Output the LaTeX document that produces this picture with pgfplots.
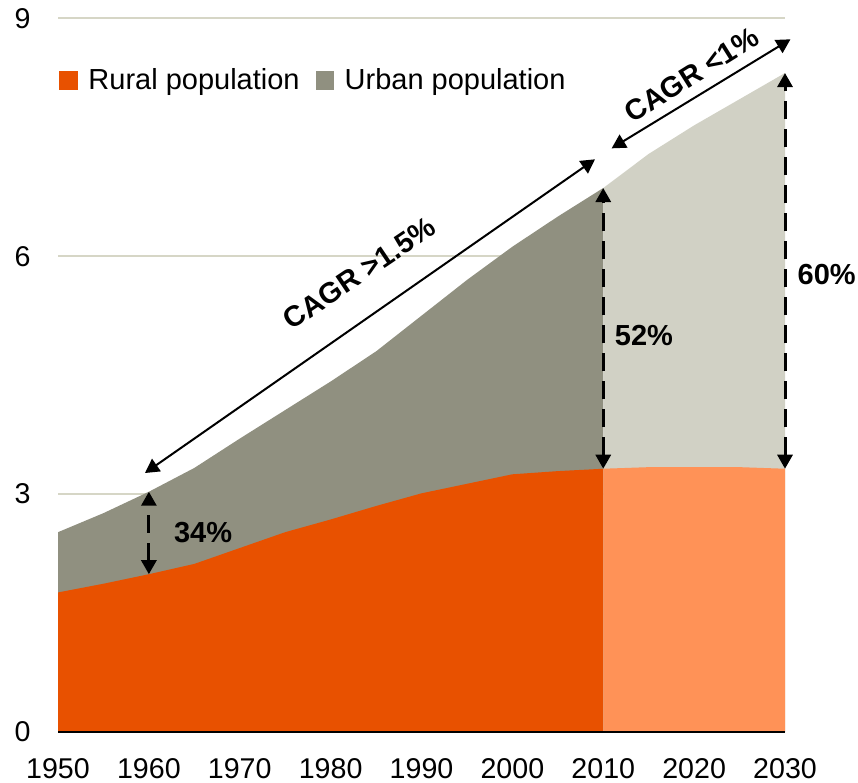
\documentclass[border=0pt]{standalone}
\usepackage{fontspec}
\setmainfont{Liberation Sans}
\usepackage{pgfplots}
\pgfplotsset{compat=1.18}
\usetikzlibrary{arrows.meta}
\definecolor{rural}{HTML}{E85100}
\definecolor{rurallight}{HTML}{FF9257}
\definecolor{urban}{HTML}{909080}
\definecolor{urbanlight}{HTML}{D1D1C5}
\definecolor{gridc}{HTML}{D6D6C6}
\newcommand{\lblfont}{\fontsize{14.3}{16}\selectfont}
\begin{document}
\begin{tikzpicture}[
  tip/.style={{Triangle[length=7pt,width=7.5pt]}-{Triangle[length=7pt,width=7.5pt]}}]
\begin{axis}[name=ax,
  scale only axis, width=363.5pt, height=356.85pt,
  xmin=1950, xmax=2030, ymin=0, ymax=9,
  xtick={1950,1960,...,2030}, ytick={0,3,6,9},
  major tick length=0pt,
  axis line style={draw=none},
  ymajorgrids, grid style={gridc, line width=0.8pt},
  /pgf/number format/assume math mode=true,
  /pgf/number format/1000 sep={},
  tick label style={font=\lblfont},
  xticklabel style={anchor=north, inner sep=0pt, yshift=-13pt},
  yticklabel style={anchor=east, inner sep=0pt, xshift=-13.5pt},
  clip=false,
  legend style={at={(0.002,0.913)}, anchor=west, draw=none, fill=none,
    inner sep=0pt, outer sep=0pt, font=\fontsize{14.5}{16}\selectfont,
    nodes={inner sep=0pt},
    /tikz/every odd column/.append style={column sep=5.3pt},
    /tikz/every even column/.append style={column sep=8pt}},
  legend columns=2,
  legend image code/.code={\fill[#1] (0pt,-4.6pt) rectangle (9.2pt,4.6pt);},
]
% total (urban on top) -- historical
\addplot[fill=urban, draw=none, forget plot] coordinates {
(1950,2.52) (1955,2.76) (1960,3.03) (1965,3.33) (1970,3.70) (1975,4.06)
(1980,4.42) (1985,4.80) (1990,5.25) (1995,5.70) (2000,6.12) (2005,6.50) (2010,6.86)
} \closedcycle;
% total -- projection
\addplot[fill=urbanlight, draw=none, forget plot] coordinates {
(2010,6.86) (2015,7.29) (2020,7.65) (2025,7.98) (2030,8.31)
} \closedcycle;
% rural -- historical
\addplot[fill=rural, draw=none, forget plot] coordinates {
(1950,1.76) (1955,1.87) (1960,1.99) (1965,2.12) (1970,2.32) (1975,2.52)
(1980,2.68) (1985,2.85) (1990,3.01) (1995,3.13) (2000,3.25) (2005,3.29) (2010,3.32)
} \closedcycle;
% rural -- projection
\addplot[fill=rurallight, draw=none, forget plot] coordinates {
(2010,3.32) (2015,3.34) (2020,3.34) (2025,3.34) (2030,3.32)
} \closedcycle;
\addlegendimage{fill=rural, draw=none}
\addlegendentry{Rural population}
\addlegendimage{fill=urban, draw=none}
\addlegendentry{Urban population}

\draw[black, line width=1pt] (axis cs:1950,0) -- (axis cs:2030,0);

% share arrows
\draw[tip, line width=1.5pt, dash pattern=on 9pt off 5pt] (axis cs:1960,1.99) -- (axis cs:1960,3.03);
\draw[tip, line width=1.5pt, dash pattern=on 9pt off 5pt] (axis cs:2010,3.32) -- (axis cs:2010,6.86);
\draw[tip, line width=1.5pt, dash pattern=on 9pt off 5pt] (axis cs:2030,3.32) -- (axis cs:2030,8.31);
\node[font=\fontsize{14.5}{16}\selectfont\bfseries] at (axis cs:1965.96,2.51) {34\%};
\node[font=\fontsize{14.5}{16}\selectfont\bfseries] at (axis cs:2014.48,5.0) {52\%};
\node[font=\fontsize{14.5}{16}\selectfont\bfseries] at (axis cs:2034.59,5.763) {60\%};

% CAGR arrows
\draw[tip, line width=1pt] (axis cs:1959.57,3.266) -- (axis cs:2009.09,7.222);
\draw[tip, line width=1pt] (axis cs:2010.92,7.36) -- (axis cs:2030.6,8.735);
\node[font=\fontsize{14.5}{16}\selectfont\bfseries, rotate=34] at (axis cs:1983.18,5.784) {CAGR >1.5\%};
\node[font=\fontsize{14.5}{16}\selectfont\bfseries, rotate=32] at (axis cs:2019.73,8.285) {CAGR <1\%};
\end{axis}
\pgfresetboundingbox
\path[use as bounding box] ([xshift=-29pt,yshift=-25pt]ax.south west) rectangle ([xshift=36.5pt,yshift=9.15pt]ax.north east);
\end{tikzpicture}
\end{document}
